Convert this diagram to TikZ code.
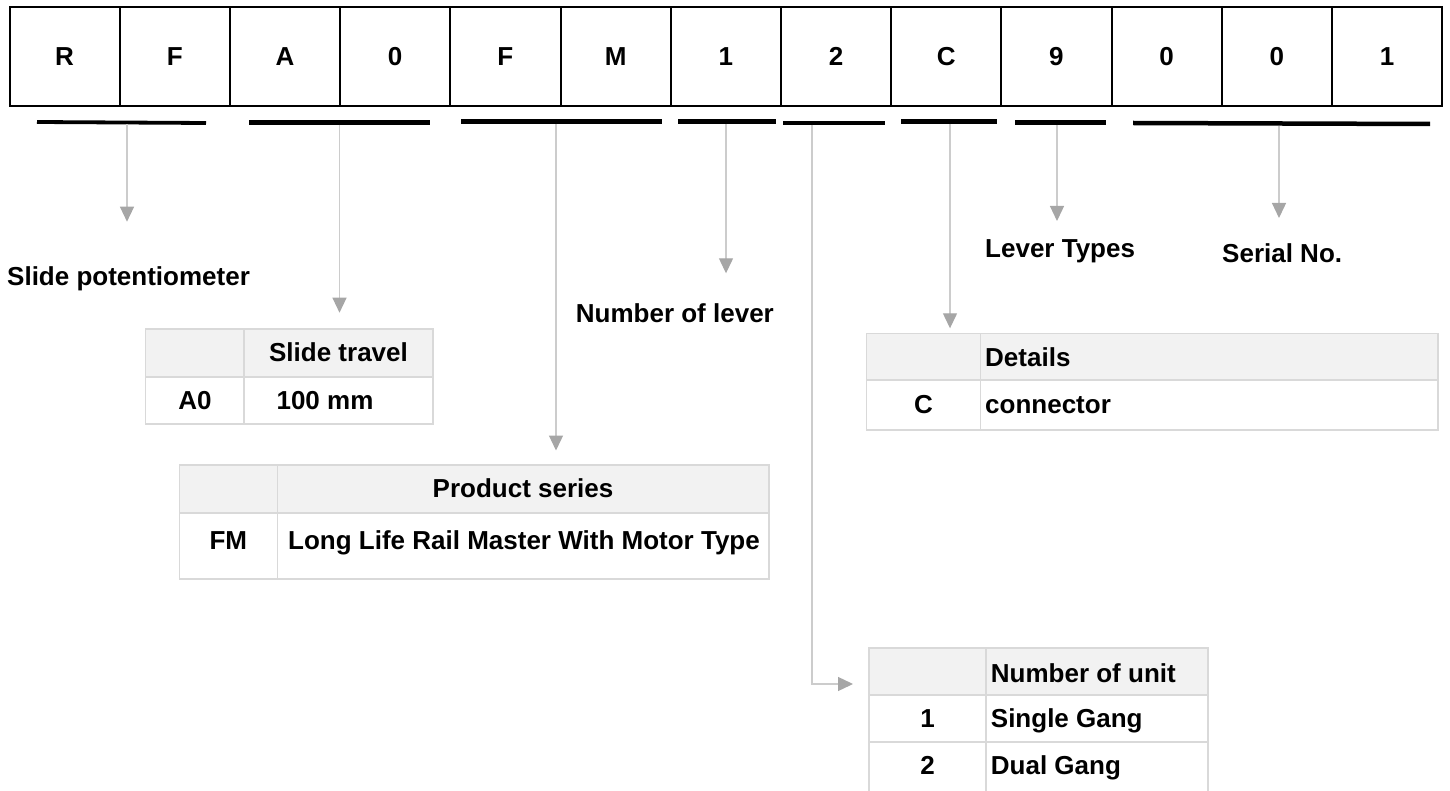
\documentclass[tikz,border=0pt]{standalone}
\usepackage{fontspec}
\setmainfont{Liberation Sans}
\usetikzlibrary{arrows.meta}
\definecolor{linegray}{HTML}{CCCCCC}
\definecolor{tipgray}{HTML}{A6A6A6}
\definecolor{tblline}{HTML}{D9D9D9}
\definecolor{hdrfill}{HTML}{F2F2F2}
\begin{document}
\begin{tikzpicture}[x=1pt,y=-1pt,
  txt/.style={font=\fontsize{26}{30}\selectfont\bfseries, inner sep=0pt},
  cell/.style={txt, draw=black, line width=2pt, minimum width=110.2pt, minimum height=99pt, outer sep=0pt},
  uline/.style={line width=4.5pt, black},
  conn/.style={draw=linegray, line width=1.3pt, -{Triangle[width=14pt,length=15pt,color=tipgray]}},
  tbl/.style={draw=tblline, line width=1.5pt},
  hdr/.style={tbl, fill=hdrfill}]
\path[use as bounding box] (0,0) rectangle (1450,791);
% code boxes
\foreach \t [count=\i] in {R,F,A,0,F,M,1,2,C,9,0,0,1}
  \node[cell] (c\i) at ({9.5+110.2*(\i-0.5)},56.5) {\t};
% underlines
\draw[uline, line width=3.8pt] (37,122) -- (206,123);
\draw[uline] (249,122.5) -- (430,122.5);
\draw[uline] (461,121.5) -- (662,121.5);
\draw[uline] (678,121.5) -- (776,121.5);
\draw[uline] (783,123) -- (885,123);
\draw[uline] (901,121.5) -- (997,121.5);
\draw[uline] (1015,122.5) -- (1106,122.5);
\draw[uline] (1133,123) -- (1430,124);
% connector coordinates
\coordinate (s1) at (127,124);    \coordinate (e1) at (127,221.7);
\coordinate (s2) at (339.5,125);  \coordinate (e2) at (339.5,312.7);
\coordinate (s3) at (556,124);    \coordinate (e3) at (556,450.5);
\coordinate (s4) at (726,124);    \coordinate (e4) at (726,273.3);
\coordinate (s5) at (812,125);    \coordinate (k5) at (812,684);   \coordinate (e5) at (853,684);
\coordinate (s6) at (950,124);    \coordinate (e6) at (950,328.3);
\coordinate (s7) at (1057,125);   \coordinate (e7) at (1057,221);
\coordinate (s8) at (1279,126);   \coordinate (e8) at (1279,218);
\draw[conn] (s1) -- (e1);
\draw[conn] (s2) -- (e2);
\draw[conn] (s3) -- (e3);
\draw[conn] (s4) -- (e4);
\draw[conn] (s5) -- (k5) -- (e5);
\draw[conn] (s6) -- (e6);
\draw[conn] (s7) -- (e7);
\draw[conn] (s8) -- (e8);
% labels
\node[txt, anchor=base west] (lslide) at (7,286) {Slide potentiometer};
\node[txt, anchor=base west] (llever) at (575.7,322.3) {Number of lever};
\node[txt, anchor=base west] (ltypes) at (985,258) {Lever Types};
\node[txt, anchor=base west] (lserial) at (1222,263) {Serial No.};
% table: slide travel
\draw[hdr] (145.7,329) rectangle (433,377);
\draw[tbl] (145.7,377) rectangle (433,424);
\draw[tbl] (244,329) -- (244,424);
\node[txt, anchor=base] (tst) at (338.5,361) {Slide travel};
\node[txt, anchor=base] (ta0) at (195,409) {A0};
\node[txt, anchor=base] (t100) at (325,409) {100 mm};
% table: product series
\draw[hdr] (179.3,465) rectangle (769,513);
\draw[tbl] (179.3,513) rectangle (769,579);
\draw[tbl] (277.3,465) -- (277.3,579);
\node[txt, anchor=base] (tps) at (523,497) {Product series};
\node[txt, anchor=base] (tfm) at (228.3,549) {FM};
\node[txt, anchor=base] (tll) at (524,549) {Long Life Rail Master With Motor Type};
% table: details
\draw[hdr] (866.7,333.3) rectangle (1438,380);
\draw[tbl] (866.7,380) rectangle (1438,430);
\draw[tbl] (980.3,333.3) -- (980.3,430);
\node[txt, anchor=base west] (tdet) at (985,366) {Details};
\node[txt, anchor=base] (tc) at (923.5,413) {C};
\node[txt, anchor=base west] (tcon) at (985,413) {connector};
% table: number of unit
\draw[hdr] (869,648) rectangle (1208,695);
\draw[tbl] (869,695) rectangle (1208,742);
\draw[tbl] (869,800) -- (869,742) -- (1208,742) -- (1208,800);
\draw[tbl] (986,648) -- (986,800);
\node[txt, anchor=base west] (tnu) at (990.7,682) {Number of unit};
\node[txt, anchor=base] (t1) at (927.5,727) {1};
\node[txt, anchor=base west] (tsg) at (990.7,727) {Single Gang};
\node[txt, anchor=base] (t2) at (927.5,774) {2};
\node[txt, anchor=base west] (tdg) at (990.7,774) {Dual Gang};
\end{tikzpicture}
\end{document}
